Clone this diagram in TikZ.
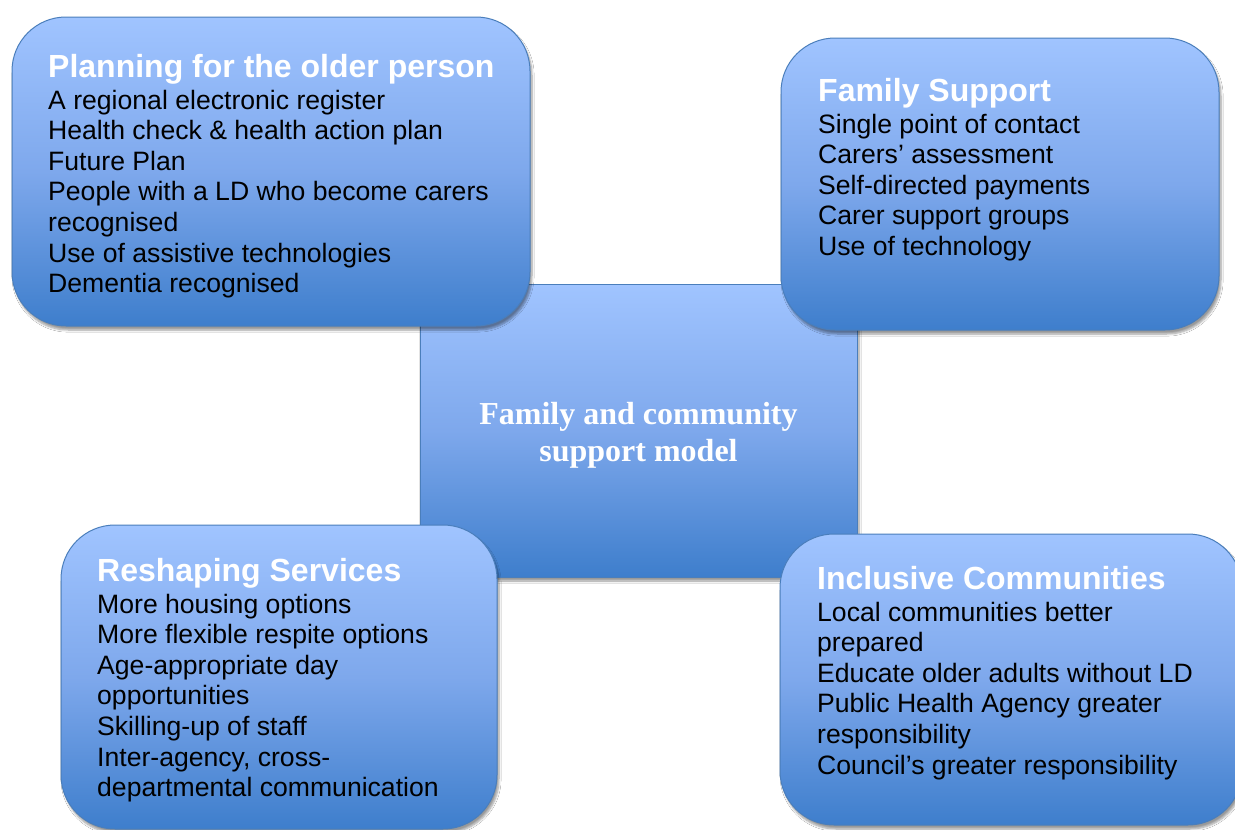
\documentclass[tikz,border=0pt]{standalone}
\usepackage{fontspec}
\setmainfont{Liberation Sans}
\newfontfamily\timesbf{Liberation Serif}
\usetikzlibrary{shadows.blur}
\definecolor{topc}{RGB}{160,196,255}
\definecolor{midc}{RGB}{126,168,236}
\definecolor{botc}{RGB}{62,126,204}
\definecolor{edgec}{RGB}{74,126,187}
\tikzset{
  panel/.style={draw=edgec, line width=1pt, top color=topc, bottom color=botc, middle color=midc,
    inner sep=0pt, blur shadow={shadow xshift=2pt, shadow yshift=-4pt, shadow blur steps=6, shadow opacity=40}},
  roundpanel/.style={panel, rounded corners=54pt},
  head/.style={font=\fontsize{32}{36.8}\selectfont\bfseries, text=white, inner sep=0pt, anchor=base west},
  body/.style={font=\fontsize{26.6}{30.6}\selectfont, text=black, inner sep=0pt, anchor=base west},
  centertext/.style={font=\timesbf\bfseries\fontsize{32}{37}\selectfont, text=white, inner sep=0pt, anchor=base}
}
\begin{document}
\begin{tikzpicture}[x=1pt, y=-1pt]
\fill[white] (0,0) rectangle (1235,830);
\useasboundingbox (0,0) rectangle (1235,830);
% centre box
\node[panel, minimum width=437pt, minimum height=293pt] (c) at (638.5,430.5) {};
\node[centertext] (ct) at (638.5,424) {\begin{tabular}[t]{@{}c@{}}Family and community\\support model\end{tabular}};
% top left
\node[roundpanel, minimum width=518pt, minimum height=309pt] (tl) at (271,171.5) {};
\node[head] (tlh) at (48,77) {Planning for the older person};
\node[body] (tlb) at (48,109) {\begin{tabular}[t]{@{}l@{}}A regional electronic register\\
Health check \& health action plan\\
Future Plan\\
People with a LD who become carers\\
recognised\\
Use of assistive technologies\\
Dementia recognised\end{tabular}};
% top right
\node[roundpanel, minimum width=438pt, minimum height=292pt] (tr) at (1000,184) {};
\node[head] (trh) at (818,101) {Family Support};
\node[body] (trb) at (818,133) {\begin{tabular}[t]{@{}l@{}}Single point of contact\\
Carers’ assessment\\
Self-directed payments\\
Carer support groups\\
Use of technology\end{tabular}};
% bottom left
\node[roundpanel, minimum width=436pt, minimum height=304pt] (bl) at (279,677) {};
\node[head] (blh) at (97,581) {Reshaping Services};
\node[body] (blb) at (97,613) {\begin{tabular}[t]{@{}l@{}}More housing options\\
More flexible respite options\\
Age-appropriate day\\
opportunities\\
Skilling-up of staff\\
Inter-agency, cross-\\
departmental communication\end{tabular}};
% bottom right
\node[roundpanel, minimum width=462pt, minimum height=291pt] (br) at (1011,679.5) {};
\node[head] (brh) at (817,589) {Inclusive Communities};
\node[body] (brb) at (817,621) {\begin{tabular}[t]{@{}l@{}}Local communities better\\
prepared\\
Educate older adults without LD\\
Public Health Agency greater\\
responsibility\\
Council’s greater responsibility\end{tabular}};
\end{tikzpicture}
\end{document}
